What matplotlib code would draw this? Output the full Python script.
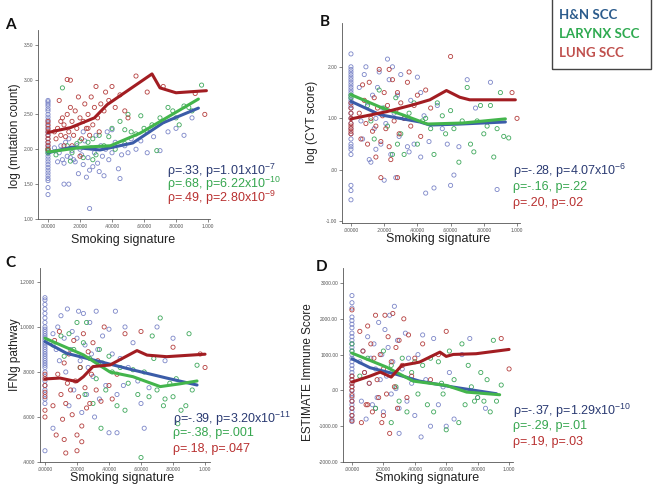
#smoking signature vs tumour features, four scatter panels

import matplotlib.pyplot as plt
from matplotlib.patches import Rectangle

plt.rcParams['font.family'] = ['Liberation Sans', 'DejaVu Sans']
plt.rcParams['mathtext.fontset'] = 'custom'
plt.rcParams['mathtext.rm'] = 'Liberation Sans'
plt.rcParams['mathtext.it'] = 'Liberation Sans'

#----------------------------------------------------------------------------------
#data

groups = ["H&N SCC", "LARYNX SCC", "LUNG SCC"]

# A: log (mutation count)
a_hn_x = [0]*32 + [0.04,0.06,0.07,0.08,0.09,0.10,0.11,0.12,0.13,0.13,0.14,0.15,0.16,0.17,0.18,0.19,0.20,0.21,0.22,0.23,0.24,0.25,0.26,0.27,0.28,0.29,0.30,0.31,0.32,0.33,0.34,0.35,0.36,0.37,0.38,0.40,0.42,0.44,0.45,0.46,0.48,0.50,0.52,0.55,0.58,0.62,0.66,0.70,0.75,0.80,0.85,0.90,0.26,0.10,0.40,0.22]
a_hn_y = [2.70,2.68,2.65,2.62,2.58,2.55,2.50,2.46,2.42,2.38,2.33,2.28,2.24,2.20,2.15,2.10,2.06,2.02,1.98,1.94,1.90,1.86,1.82,1.78,1.74,1.70,1.66,1.62,1.58,1.55,1.45,1.35,
          2.02,1.82,1.95,2.05,1.85,1.80,2.10,1.90,2.15,1.50,1.88,1.98,1.85,1.82,2.05,1.65,2.00,1.92,1.78,2.12,1.60,1.88,1.70,2.02,1.75,1.95,2.20,1.80,1.68,2.05,1.90,1.62,2.00,2.25,1.85,1.95,2.10,1.72,1.58,1.92,2.05,1.95,2.15,2.00,2.12,1.95,2.18,1.98,2.25,2.30,2.20,2.45,1.15,1.50,2.28,2.25]
a_lx_x = [0,0,0,0.09,0.05,0.12,0.15,0.18,0.20,0.22,0.25,0.28,0.30,0.32,0.35,0.38,0.40,0.42,0.45,0.48,0.50,0.52,0.55,0.58,0.60,0.62,0.65,0.68,0.70,0.72,0.75,0.78,0.80,0.82,0.85,0.88,0.90,0.96,0.28,0.14,0.48]
a_lx_y = [1.95,1.98,2.00,2.88,1.92,2.05,1.95,2.08,2.12,1.88,2.10,2.15,1.92,2.20,2.05,2.18,2.30,2.00,2.40,2.28,2.50,2.25,2.22,2.48,2.30,2.25,2.35,1.98,2.45,2.40,2.60,2.55,2.45,2.35,2.62,2.60,2.55,2.92,1.85,1.83,2.08]
a_lu_x = [0]*9 + [0.04,0.05,0.06,0.07,0.08,0.09,0.10,0.11,0.12,0.14,0.12,0.13,0.14,0.15,0.16,0.17,0.18,0.19,0.20,0.21,0.22,0.23,0.24,0.25,0.26,0.27,0.28,0.29,0.30,0.31,0.32,0.33,0.35,0.36,0.38,0.40,0.42,0.45,0.48,0.50,0.55,0.62,0.72,0.98,0.92,0.20,0.15,0.25,0.08,0.10]
a_lu_y = [2.00,2.05,2.10,2.15,2.20,2.25,2.30,2.35,2.40,
          2.25,2.15,2.30,2.70,2.20,2.45,2.35,2.18,3.00,2.99,2.50,2.25,2.60,2.40,2.20,2.55,2.30,2.75,2.45,2.15,2.40,2.65,2.30,2.50,2.20,2.75,2.35,2.60,2.90,2.45,2.25,2.65,2.55,2.82,2.70,2.90,2.60,2.78,2.55,2.45,3.05,2.82,2.90,2.50,2.80,1.90,2.05,2.30,2.40,2.05]
a_fit_x = {"hn": [0, 0.15, 0.325, 0.53, 0.72, 0.94],
           "lx": [0, 0.22, 0.39, 0.575, 0.74, 0.94],
           "lu": [0, 0.14, 0.29, 0.37, 0.65, 0.70, 0.80, 0.99]}
a_fit_y = {"hn": [1.95, 2.03, 1.99, 2.09, 2.38, 2.59],
           "lx": [1.96, 2.03, 2.05, 2.23, 2.45, 2.72],
           "lu": [2.24, 2.31, 2.45, 2.64, 3.08, 2.88, 2.81, 2.84]}

# B: log (CYT score)
b_hn_x = [0]*31 + [0.05,0.06,0.07,0.08,0.09,0.10,0.11,0.12,0.13,0.14,0.15,0.16,0.17,0.18,0.19,0.20,0.21,0.22,0.23,0.24,0.25,0.26,0.27,0.28,0.29,0.30,0.32,0.34,0.36,0.38,0.40,0.42,0.44,0.45,0.47,0.50,0.52,0.55,0.58,0.60,0.62,0.65,0.70,0.75,0.84,0.88,0.35,0.15,0.42]
b_hn_y = [2.25,2.00,1.95,1.90,1.85,1.80,1.75,1.70,1.65,1.60,1.55,1.50,1.45,1.40,1.35,1.30,1.25,1.20,1.10,1.00,0.90,0.80,0.70,0.60,0.50,0.45,0.40,0.30,-0.30,-0.40,-0.58,
          1.60,0.95,0.60,1.85,2.00,1.30,0.20,0.15,1.45,0.80,1.00,1.60,1.90,0.50,1.20,-0.20,0.90,2.15,1.75,0.30,2.00,1.10,-0.15,1.45,0.65,1.85,1.00,0.45,1.35,0.50,1.80,0.25,1.05,-0.45,0.55,-0.35,1.25,0.80,0.50,-0.30,-0.10,0.45,1.75,1.20,1.70,-0.38,0.35,0.40,1.50]
b_lx_x = [0,0,0.10,0.12,0.14,0.17,0.20,0.22,0.25,0.27,0.30,0.32,0.35,0.38,0.40,0.43,0.45,0.48,0.50,0.52,0.55,0.57,0.60,0.62,0.65,0.67,0.70,0.72,0.74,0.76,0.78,0.80,0.82,0.84,0.86,0.90,0.92,0.95,0.88,0.28]
b_lx_y = [1.40,1.45,1.25,0.95,0.60,1.55,1.20,0.85,0.30,1.40,0.70,0.30,1.10,1.30,0.50,0.95,1.00,0.80,0.30,1.30,1.05,0.70,1.15,0.80,0.15,0.95,1.60,0.50,0.35,0.95,1.25,0.70,0.85,1.25,0.25,1.50,0.65,0.62,0.80,0.50]
b_lu_x = [0]*9 + [0.05,0.06,0.07,0.08,0.09,0.10,0.11,0.12,0.13,0.14,0.15,0.16,0.17,0.18,0.19,0.20,0.21,0.22,0.23,0.24,0.25,0.26,0.27,0.28,0.29,0.30,0.32,0.34,0.36,0.38,0.40,0.42,0.45,0.48,0.18,0.28,0.60,0.97,1.00,0.15,0.35,0.23]
b_lu_y = [1.30,1.20,1.10,1.00,0.90,0.85,0.80,0.75,0.70,
          1.10,0.60,1.65,1.35,0.90,0.50,1.70,1.00,0.75,1.40,0.85,1.20,1.95,0.55,1.05,1.50,0.80,1.25,0.45,0.20,1.75,0.95,1.15,1.50,0.70,1.30,1.00,1.70,0.85,1.25,1.45,0.65,1.55,1.20,-0.15,-0.15,2.20,1.50,1.00,0.25,1.90,1.95]
b_fit_x = {"hn": [0, 0.175, 0.415, 0.476, 0.66, 0.93],
           "lx": [0, 0.175, 0.31, 0.46, 0.675, 0.93],
           "lu": [0, 0.215, 0.37, 0.475, 0.575, 0.655, 0.715, 0.99]}
b_fit_y = {"hn": [1.33, 1.07, 0.93, 0.87, 0.89, 0.93],
           "lx": [1.46, 1.22, 1.07, 0.89, 0.91, 0.99],
           "lu": [0.99, 1.13, 1.26, 1.36, 1.54, 1.41, 1.36, 1.36]}

# C: IFNg pathway
c_hn_x = [0]*35 + [0.05,0.07,0.08,0.09,0.10,0.12,0.13,0.14,0.15,0.16,0.17,0.18,0.20,0.21,0.22,0.23,0.24,0.25,0.26,0.27,0.28,0.29,0.30,0.31,0.32,0.33,0.34,0.35,0.36,0.38,0.40,0.42,0.44,0.45,0.47,0.49,0.50,0.52,0.55,0.58,0.60,0.62,0.65,0.70,0.75,0.80,0.40,0.45,0.05]
c_hn_y = [1.13,1.12,1.10,1.08,1.06,1.04,1.02,1.00,0.99,0.98,0.97,0.96,0.95,0.94,0.93,0.92,0.91,0.90,0.89,0.88,0.87,0.86,0.85,0.84,0.83,0.82,0.80,0.78,0.76,0.74,0.72,0.70,0.68,0.66,0.45,
          0.97,0.90,1.00,0.85,1.05,0.95,0.80,1.08,0.65,0.90,0.98,0.72,0.95,1.07,0.85,0.62,1.06,0.92,0.70,0.82,1.02,0.88,0.78,0.60,1.07,0.90,0.68,0.84,0.96,0.74,0.99,0.88,1.07,0.70,0.86,0.74,1.00,0.82,0.93,0.76,0.66,0.55,0.73,1.00,0.85,0.95,0.53,0.53,0.55]
c_lx_x = [0.05,0.10,0.12,0.15,0.18,0.20,0.22,0.24,0.25,0.26,0.28,0.30,0.32,0.34,0.35,0.36,0.38,0.40,0.42,0.45,0.47,0.50,0.52,0.55,0.58,0.60,0.62,0.65,0.67,0.68,0.70,0.72,0.74,0.75,0.78,0.80,0.82,0.85,0.88,0.90,0.92,0.95,0.83]
c_lx_y = [0.92,0.96,0.87,0.97,0.90,1.02,0.82,0.93,0.70,1.02,0.86,0.66,0.77,0.90,0.55,0.84,0.72,0.87,0.80,0.65,0.82,0.63,0.75,0.81,0.70,0.42,0.80,0.69,0.96,0.86,0.72,1.04,0.65,0.68,0.75,0.69,0.77,0.63,0.65,0.97,0.72,0.83,0.57]
c_lu_x = [0]*7 + [0.05,0.06,0.07,0.08,0.09,0.10,0.11,0.12,0.13,0.14,0.15,0.16,0.17,0.18,0.19,0.20,0.21,0.22,0.23,0.24,0.25,0.26,0.27,0.28,0.29,0.30,0.32,0.33,0.35,0.37,0.40,0.42,0.45,0.50,0.60,0.80,0.97,1.00,0.23,0.20,0.13,0.12]
c_lu_y = [0.79,0.77,0.74,0.71,0.69,0.63,0.60,
          0.65,0.94,0.52,0.79,0.98,0.70,0.59,0.84,0.66,0.75,0.88,0.72,0.61,0.94,0.76,0.52,0.69,0.82,0.56,0.97,0.73,0.64,0.89,0.66,0.79,0.93,0.72,0.85,0.67,1.00,0.74,0.68,0.79,0.97,0.98,0.91,0.88,0.82,0.49,0.45,0.44,0.50]
c_fit_x = {"hn": [0, 0.135, 0.344, 0.55, 0.76, 0.95],
           "lx": [0, 0.24, 0.406, 0.55, 0.72, 0.84, 0.95],
           "lu": [0, 0.094, 0.20, 0.24, 0.30, 0.406, 0.575, 0.6375, 0.76, 1.0]}
c_fit_y = {"hn": [0.935, 0.883, 0.846, 0.809, 0.773, 0.742],
           "lx": [0.95, 0.876, 0.80, 0.779, 0.735, 0.747, 0.76],
           "lu": [0.769, 0.773, 0.757, 0.779, 0.824, 0.831, 0.895, 0.875, 0.868, 0.879]}

# D: ESTIMATE Immune Score
d_hn_x = [0]*33 + [0.05,0.06,0.07,0.08,0.09,0.10,0.11,0.12,0.13,0.14,0.15,0.16,0.17,0.18,0.19,0.20,0.21,0.22,0.23,0.24,0.25,0.26,0.27,0.28,0.29,0.30,0.32,0.34,0.35,0.36,0.38,0.40,0.42,0.44,0.45,0.47,0.50,0.52,0.55,0.58,0.60,0.62,0.65,0.70,0.75,0.80,0.85,0.30,0.15]
d_hn_y = [2650,2450,2300,2050,1950,1850,1750,1600,1500,1400,1300,1200,1100,1000,900,800,700,600,500,400,300,200,100,0,-100,-200,-300,-400,-500,-600,-700,-800,-870,
          800,-300,1100,500,-800,1500,200,900,-400,1300,600,-200,1900,300,1000,-600,1700,400,1200,2100,-100,800,2350,50,1400,-500,600,1600,-300,900,200,-700,1000,-1300,1550,300,-1000,1450,-400,100,-1000,500,-800,1000,1450,-200,-500,-1200,-500]
d_lx_x = [0,0,0.05,0.10,0.15,0.20,0.25,0.28,0.30,0.32,0.35,0.38,0.40,0.42,0.45,0.48,0.50,0.52,0.55,0.58,0.60,0.62,0.65,0.68,0.70,0.72,0.74,0.76,0.78,0.80,0.82,0.84,0.86,0.88,0.90,0.92,0.95,0.25,0.57]
d_lx_y = [1300,1100,400,900,-500,1100,700,100,-300,900,-600,500,800,-100,700,-400,900,-600,800,-100,-1100,1100,300,-900,1300,-400,700,100,-300,-200,500,-300,300,-600,1400,-300,150,-900,200]
d_lu_x = [0]*11 + [0.05,0.06,0.07,0.08,0.09,0.10,0.11,0.12,0.13,0.14,0.15,0.16,0.17,0.18,0.19,0.20,0.21,0.22,0.23,0.24,0.25,0.26,0.27,0.28,0.29,0.30,0.32,0.33,0.35,0.36,0.38,0.40,0.45,0.50,0.55,0.60,0.95,1.00,0.20,0.10]
d_lu_y = [2250,400,300,200,100,0,-150,-300,-500,-700,-850,
          1650,-900,1100,500,-400,1800,200,1300,-600,900,2100,300,-200,1000,-900,600,2100,-100,1500,-1200,800,2150,100,1200,-500,1400,700,2000,-200,1550,400,900,1300,300,1000,1650,1450,600,-700,-400]
d_fit_x = {"hn": [0, 0.115, 0.285, 0.43, 0.645, 0.92],
           "lx": [0, 0.22, 0.39, 0.60, 0.73, 0.94],
           "lu": [0, 0.115, 0.18, 0.25, 0.317, 0.43, 0.56, 0.60, 0.645, 0.79, 1.0]}
d_fit_y = {"hn": [885, 634, 447, 260, 93, -93],
           "lx": [1043, 651, 260, 140, -47, -121],
           "lu": [233, 400, 512, 372, 698, 791, 1070, 950, 1005, 1025, 1145]}

x_ticks = [0, 0.2, 0.4, 0.6, 0.8, 1.0]
x_tick_labels = [".00000", ".20000", ".40000", ".60000", ".80000", "1.000"]

a_stats = ["ρ=.33, p=1.01x10$^{-7}$", "ρ=.68, p=6.22x10$^{-10}$", "ρ=.49, p=2.80x10$^{-9}$"]
b_stats = ["ρ=-.28, p=4.07x10$^{-6}$", "ρ=-.16, p=.22", "ρ=.20, p=.02"]
c_stats = ["ρ=-.39, p=3.20x10$^{-11}$", "ρ=-.38, p=.001", "ρ=.18, p=.047"]
d_stats = ["ρ=-.37, p=1.29x10$^{-10}$", "ρ=-.29, p=.01", "ρ=.19, p=.03"]

#----------------------------------------------------------------------------------

marker_colors = {"hn": "#7c86c8", "lx": "#3fa85c", "lu": "#b5403f"}
line_colors = {"hn": "#3b5ca8", "lx": "#43b54c", "lu": "#a21d22"}
text_colors = ["#2a3a72", "#36a64f", "#b83030"]
legend_colors = ["#2b5b8c", "#2eaa50", "#c0504d"]

W, H = 654, 486
fig = plt.figure(figsize=(W / 100, H / 100), dpi=100)


def px_axes(left, top, right, bottom):
    return fig.add_axes([left / W, 1 - bottom / H, (right - left) / W, (bottom - top) / H])


def draw_panel(ax, pts, fits_x, fits_y, xlim, ylim, yticks, ytick_labels):
    for key, (xs, ys) in pts.items():
        ax.scatter(xs, ys, s=9, facecolors="none", edgecolors=marker_colors[key], linewidths=0.6, zorder=2)
    for key in ["hn", "lx", "lu"]:
        ax.plot(fits_x[key], fits_y[key], color=line_colors[key], linewidth=2.2, zorder=3,
                solid_joinstyle="round", solid_capstyle="round")
    ax.set_xlim(xlim)
    ax.set_ylim(ylim)
    ax.set_xticks(x_ticks)
    ax.set_xticklabels(x_tick_labels)
    ax.set_yticks(yticks)
    ax.set_yticklabels(ytick_labels)
    ax.tick_params(labelsize=3.5, labelcolor="#555555", length=2, width=0.5, color="#555555", pad=1.5)
    for side in ["top", "right"]:
        ax.spines[side].set_visible(False)
    for side in ["left", "bottom"]:
        ax.spines[side].set_color("#555555")
        ax.spines[side].set_linewidth(0.6)


def fig_text(x, y, s, **kw):
    fig.text(x / W, 1 - y / H, s, **kw)


#----------------------------------------------------------------------------------
#panel A

ax_a = px_axes(38, 30, 210, 219)
draw_panel(ax_a, {"hn": (a_hn_x, a_hn_y), "lx": (a_lx_x, a_lx_y), "lu": (a_lu_x, a_lu_y)},
           a_fit_x, a_fit_y, (-0.0625, 1.0125), (1.0, 3.71),
           [1.0, 1.5, 2.0, 2.5, 3.0, 3.5], ["1.00", "1.50", "2.00", "2.50", "3.00", "3.50"])

#panel B
ax_b = px_axes(342, 23, 520, 223)
draw_panel(ax_b, {"hn": (b_hn_x, b_hn_y), "lx": (b_lx_x, b_lx_y), "lu": (b_lu_x, b_lu_y)},
           b_fit_x, b_fit_y, (-0.054, 1.018), (-1.03, 2.85),
           [-1.0, 0.0, 1.0, 2.0], ["-1.00", ".00", "1.00", "2.00"])

#panel C
ax_c = px_axes(40, 268, 210, 462)
draw_panel(ax_c, {"hn": (c_hn_x, c_hn_y), "lx": (c_lx_x, c_lx_y), "lu": (c_lu_x, c_lu_y)},
           c_fit_x, c_fit_y, (-0.031, 1.031), (0.4, 1.262),
           [0.4, 0.6, 0.8, 1.0, 1.2], [".4000", ".6000", ".8000", "1.0000", "1.2000"])

#panel D
ax_d = px_axes(343, 268, 513, 462)
draw_panel(ax_d, {"hn": (d_hn_x, d_hn_y), "lx": (d_lx_x, d_lx_y), "lu": (d_lu_x, d_lu_y)},
           d_fit_x, d_fit_y, (-0.057, 1.025), (-2000, 3420),
           [-2000, -1000, 0, 1000, 2000, 3000], ["-2000.00", "-1000.00", ".00", "1000.00", "2000.00", "3000.00"])

#----------------------------------------------------------------------------------
#labels, letters and correlation text

xlabel_kw = dict(fontsize=9, color="#222222", ha="center", va="center")
ylabel_kw = dict(fontsize=8.5, color="#222222", ha="center", va="center", rotation=90)
fig_text(123, 240, "Smoking signature", **xlabel_kw)
fig_text(438, 239, "Smoking signature", **xlabel_kw)
fig_text(122, 478, "Smoking signature", **xlabel_kw)
fig_text(427, 478, "Smoking signature", **xlabel_kw)
fig_text(15, 136, "log (mutation count)", **ylabel_kw)
fig_text(312, 122, "log (CYT score)", **ylabel_kw)
fig_text(15, 355, "IFNg pathway", **ylabel_kw)
fig_text(308, 372, "ESTIMATE Immune Score", **ylabel_kw)

letter_kw = dict(fontsize=11, fontweight="bold", family=["Lato", "DejaVu Sans"], color="#111111", ha="center", va="center")
fig_text(10, 25, "A", **letter_kw)
fig_text(325, 22, "B", **letter_kw)
fig_text(10, 263, "C", **letter_kw)
fig_text(322, 267, "D", **letter_kw)

for stats, x0, ys in [(a_stats, 167, [171, 184, 198]),
                      (b_stats, 513, [171, 187, 203]),
                      (c_stats, 173, [419, 433, 449]),
                      (d_stats, 513, [411, 426, 442])]:
    for s, y, c in zip(stats, ys, text_colors):
        fig_text(x0, y, s, fontsize=9, color=c, ha="left", va="center")

#legend box
box = Rectangle((552 / W, 1 - 69 / H), 99 / W, 70 / H, transform=fig.transFigure,
                fill=False, edgecolor="#444444", linewidth=1.0)
fig.add_artist(box)
for name, y, c in zip(groups, [15, 34, 53], legend_colors):
    fig_text(559, y, name, fontsize=9.5, fontweight="bold", family=["Lato", "DejaVu Sans"],
             color=c, ha="left", va="center")

#----------------------------------------------------------------------------------

fig.savefig("out.png", dpi=100)
